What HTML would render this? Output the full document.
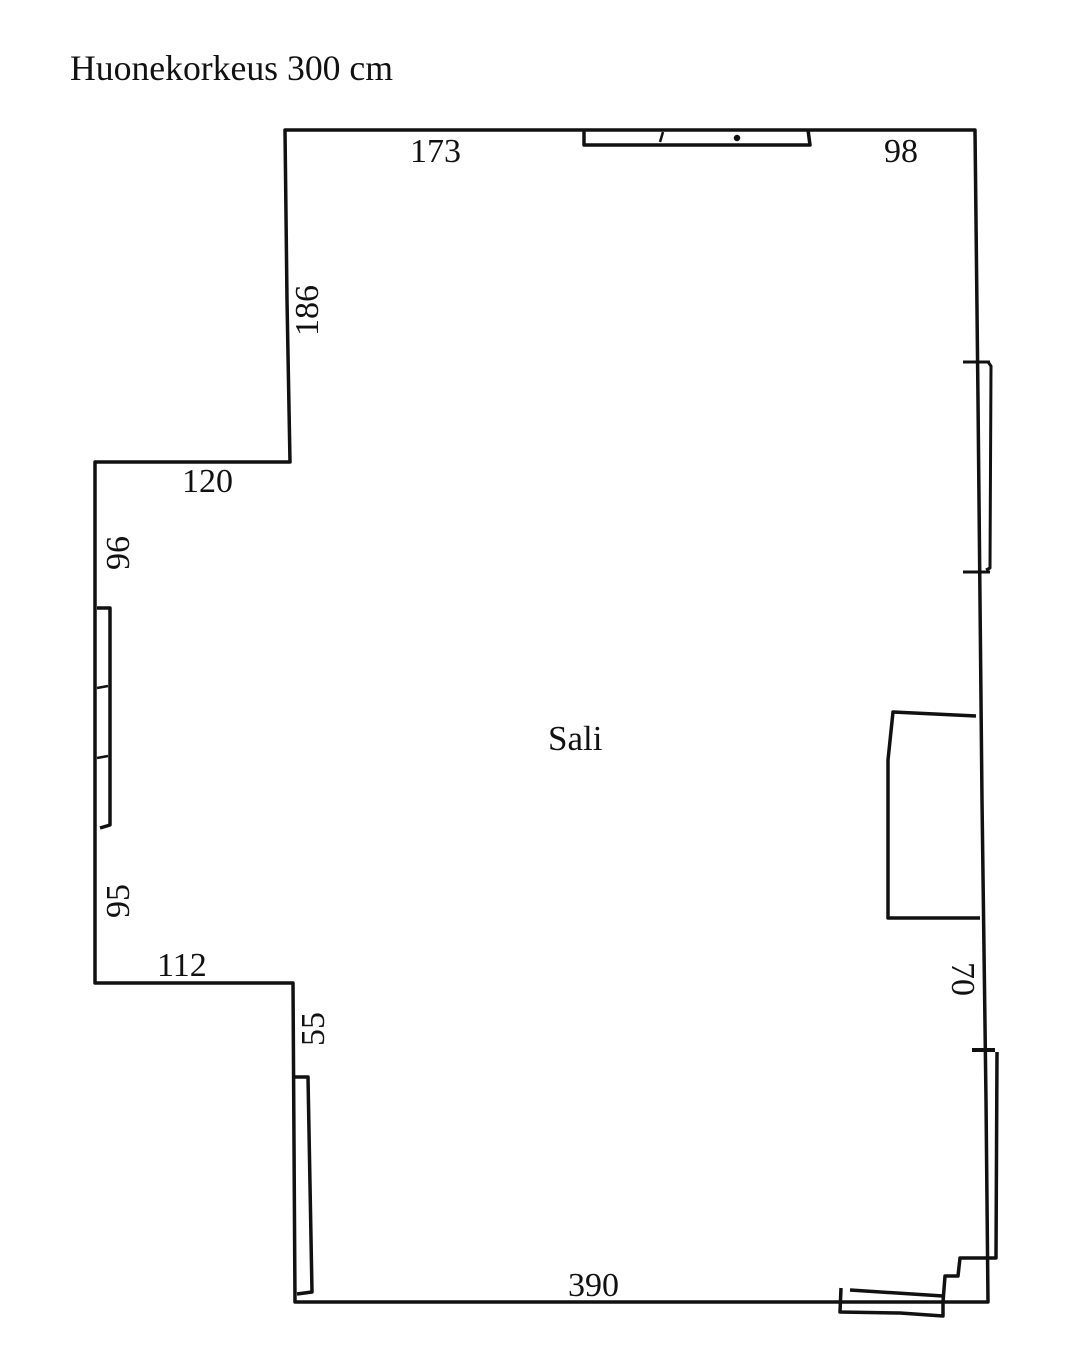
<!DOCTYPE html>
<html><head><meta charset="utf-8"><style>
html,body{margin:0;padding:0;background:#fff;}
svg{display:block}
text{font-family:"Liberation Serif",serif;fill:#111}
</style></head><body>
<svg width="1071" height="1356" viewBox="0 0 1071 1356" xmlns="http://www.w3.org/2000/svg">
<text x="70" y="80" font-size="36" textLength="323" lengthAdjust="spacingAndGlyphs">Huonekorkeus 300 cm</text>
<g fill="none" stroke="#111" stroke-width="3.5" stroke-linejoin="round">
<path d="M285,130 L975,130 L978,400 L982,800 L986,1100 L988,1302 L295,1302 L293,983 L95,983 L95,462 L290,462 L287,300 Z"/>
<path d="M584,130 L584,145 L810,145 L808,130"/>
<path d="M663,132 L660,142" stroke-width="2.5"/>
<circle cx="737" cy="138" r="1.5" fill="#111"/>
<path d="M963,362 L990,362 M963,572 L990,572" stroke-width="3"/>
<path d="M988,362 L991,366 L990,568 L986,570" stroke-width="3"/>
<path d="M976,716 L893,712 L888,760 L888,918 L980,918"/>
<path d="M972,1050 L995,1050" stroke-width="4"/>
<path d="M997,1052 L996,1258 L960,1258 L958,1276 L945,1276 L943,1302"/>
<path d="M841,1288 L840,1312 L900,1313 L943,1316 L943,1300 M850,1290 L943,1296"/>
<path d="M97,608 L110,608 L110,825 L100,828"/>
<path d="M97,688 L108,686 M97,758 L108,756" stroke-width="2.5"/>
<path d="M295,1077 L308,1077 L312,1292 L297,1294"/>
</g>
<text x="410" y="162" font-size="34">173</text>
<text x="884" y="162" font-size="34">98</text>
<text x="182" y="492" font-size="34">120</text>
<text x="157" y="976" font-size="34">112</text>
<text x="568" y="1296" font-size="34">390</text>
<text x="548" y="750" font-size="35">Sali</text>
<text transform="translate(318,336) rotate(-90)" font-size="34">186</text>
<text transform="translate(129,570) rotate(-90)" font-size="34">96</text>
<text transform="translate(129,918) rotate(-90)" font-size="34">95</text>
<text transform="translate(324,1046) rotate(-90)" font-size="34">55</text>
<text transform="translate(952,962) rotate(90)" font-size="34">70</text>
</svg>
</body></html>
